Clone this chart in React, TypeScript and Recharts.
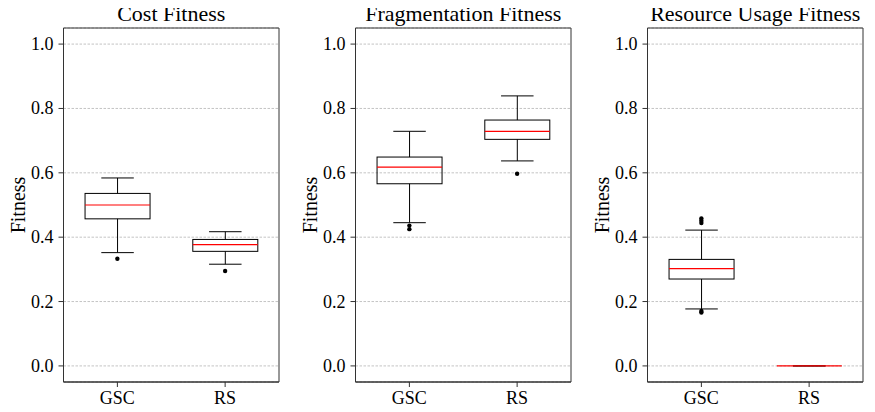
import { ComposedChart, Bar, Scatter, XAxis, YAxis, CartesianGrid, ReferenceArea } from "recharts";

const groups = ["GSC", "RS"];
const panelTitles = ["Cost Fitness", "Fragmentation Fitness", "Resource Usage Fitness"];
const yTicks = [0, 0.2, 0.4, 0.6, 0.8, 1.0];

// [lower whisker, q1, median, q3, upper whisker] per group
const costStats = [
  [0.352, 0.457, 0.5, 0.536, 0.584],
  [0.316, 0.356, 0.377, 0.393, 0.417],
];
const costOutliers = [[0.333], [0.295]];

const fragStats = [
  [0.445, 0.566, 0.618, 0.649, 0.729],
  [0.637, 0.704, 0.729, 0.764, 0.839],
];
const fragOutliers = [[0.436, 0.425], [0.597]];

const resStats = [
  [0.177, 0.27, 0.302, 0.331, 0.422],
  [0, 0, 0, 0, 0],
];
const resOutliers = [[0.458, 0.451, 0.444, 0.171, 0.166], []];

const FONT = "Liberation Serif, Times New Roman, serif";

const toRows = (stats: number[][]) =>
  groups.map((name, i) => {
    const [lo, q1, med, q3, hi] = stats[i];
    return { name, lo, q1, med, q3, hi };
  });

const toPoints = (outliers: number[][]) =>
  groups.flatMap((name, i) => outliers[i].map((value) => ({ name, value })));

// bar spans lower..upper whisker; everything else is placed on the same linear scale
const BoxShape = (props: any) => {
  const { x, y, width, height, payload } = props;
  const { lo, q1, med, q3, hi } = payload;
  const top = Math.min(y, y + height);
  const bot = Math.max(y, y + height);
  const py = (v: number) => (hi === lo ? bot : bot - ((v - lo) / (hi - lo)) * (bot - top));
  const cx = x + width / 2;
  const cap = width / 4;
  return (
    <g>
      <line x1={cx} x2={cx} y1={py(hi)} y2={py(q3)} stroke="#000" strokeWidth={1} />
      <line x1={cx} x2={cx} y1={py(q1)} y2={py(lo)} stroke="#000" strokeWidth={1} />
      <line x1={cx - cap} x2={cx + cap} y1={py(hi)} y2={py(hi)} stroke="#000" strokeWidth={1} />
      <line x1={cx - cap} x2={cx + cap} y1={py(lo)} y2={py(lo)} stroke="#000" strokeWidth={1} />
      <rect x={x} y={py(q3)} width={width} height={py(q1) - py(q3)} fill="none" stroke="#000" strokeWidth={1} />
      <line x1={x} x2={x + width} y1={py(med)} y2={py(med)} stroke="#ff0000" strokeWidth={1.2} />
    </g>
  );
};

const Dot = (props: any) => <circle cx={props.cx} cy={props.cy} r={2.2} fill="#000" />;

const XTick = (p: any) => (
  <text x={p.x} y={p.y} dy={13} textAnchor="middle" style={{ fontFamily: FONT }} fontSize={18} fill="#000">
    {p.payload.value}
  </text>
);

const YTick = (p: any) => (
  <text x={p.x} y={p.y} dy={6} textAnchor="end" style={{ fontFamily: FONT }} fontSize={18} fill="#000">
    {Number(p.payload.value).toFixed(1)}
  </text>
);

const Panel = ({ title, stats, outliers, left }: { title: string; stats: number[][]; outliers: number[][]; left: number }) => (
  <div style={{ position: "absolute", left, top: 0, width: 290, height: 412, fontFamily: FONT }}>
    <svg width={290} height={28} style={{ position: "absolute", left: 0, top: 0, overflow: "visible" }}>
      <text x={171.25} y={21} textAnchor="middle" fontFamily={FONT} fontSize={22} fill="#000">
        {title}
      </text>
    </svg>
    <div style={{ position: "absolute", left: 0, top: 0 }}>
      <ComposedChart
        width={290}
        height={412}
        data={toRows(stats)}
        margin={{ top: 28, right: 11, bottom: 0, left: 0 }}
        barCategoryGap="20%"
      >
        <CartesianGrid vertical={false} stroke="#b5b5b5" strokeWidth={0.8} strokeDasharray="2.5 1.5" />
        <XAxis
          dataKey="name"
          type="category"
          allowDuplicatedCategory={false}
          height={30}
          tick={<XTick />}
          tickSize={5}
          tickMargin={4}
          axisLine={{ stroke: "#333" }}
          tickLine={{ stroke: "#333" }}
        />
        <YAxis
          type="number"
          domain={[-0.05, 1.05]}
          ticks={yTicks}
          width={63.5}
          tick={<YTick />}
          tickSize={5}
          tickMargin={5}
          axisLine={{ stroke: "#333" }}
          tickLine={{ stroke: "#333" }}
          allowDataOverflow
          label={(p: any) => {
            const vb = p.viewBox;
            const cy = vb.y + vb.height / 2;
            return (
              <text
                x={25}
                y={cy}
                transform={`rotate(-90 25 ${cy})`}
                textAnchor="middle"
                fontFamily={FONT}
                fontSize={20}
                fill="#000"
              >
                Fitness
              </text>
            );
          }}
        />
        <Bar dataKey={(d: any) => [d.lo, d.hi]} shape={BoxShape} isAnimationActive={false} />
        <Scatter data={toPoints(outliers)} dataKey="value" shape={Dot} isAnimationActive={false} />
        <ReferenceArea y1={-0.05} y2={1.05} fill="none" stroke="#333" strokeWidth={1} fillOpacity={0} />
      </ComposedChart>
    </div>
  </div>
);

export default function App() {
  const all = [
    [costStats, costOutliers],
    [fragStats, fragOutliers],
    [resStats, resOutliers],
  ];
  return (
    <div style={{ position: "relative", width: 875, height: 412, margin: -8, background: "#fff" }}>
      {all.map(([s, o], i) => (
        <Panel key={i} title={panelTitles[i]} stats={s} outliers={o} left={291.9 * i} />
      ))}
    </div>
  );
}
